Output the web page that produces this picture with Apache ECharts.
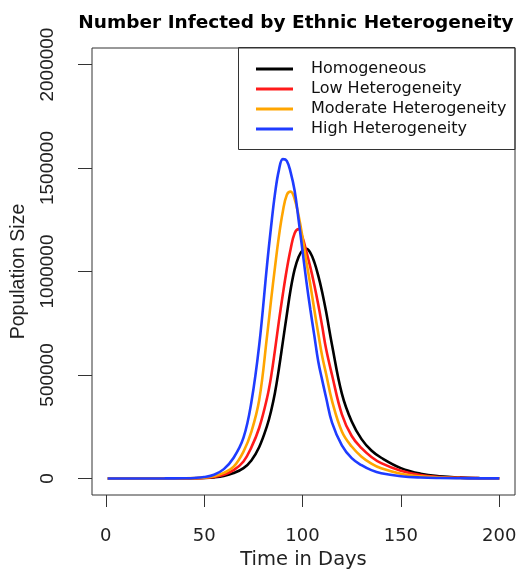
<!DOCTYPE html>
<html>
<head>
<meta charset="utf-8">
<script src="https://cdn.jsdelivr.net/npm/echarts@6/dist/echarts.min.js"></script>
<style>
  html, body { margin: 0; padding: 0; background: #ffffff; }
  #chart { width: 528px; height: 571px; }
</style>
</head>
<body>
<div id="chart"></div>
<script>
// Simulated daily infections (people currently infected) by ethnic heterogeneity level
const days = [1, 10, 20, 30, 40, 45, 50, 55, 60, 65, 70, 74, 78, 82, 84, 86, 88, 90, 92, 94,
  96, 98, 100, 102, 104, 106, 108, 110, 112, 115, 120, 125, 130, 135, 140, 150, 160, 170, 180, 190, 200];

const homogeneous = [0, 0, 3, 30, 250, 650, 1800, 5000, 12000, 26000, 50000, 87000, 152000, 255000, 325000, 414000, 530000, 660000, 790000, 915000,
  1010000, 1070000, 1102000, 1110000, 1090000, 1045000, 980000, 900000, 805000, 645000, 410000, 275000, 190000, 135000, 100000, 50000, 23000, 10000, 4000, 1600, 700];

const lowHeterogeneity = [0, 0, 5, 50, 400, 1000, 2800, 7500, 18000, 40000, 82000, 150000, 245000, 390000, 490000, 620000, 760000, 890000, 1010000, 1110000,
  1185000, 1205000, 1165000, 1095000, 1020000, 935000, 840000, 735000, 625000, 500000, 310000, 205000, 146000, 104000, 74000, 37000, 16000, 7000, 3000, 1200, 500];

const moderateHeterogeneity = [0, 0, 10, 80, 600, 1500, 4000, 11000, 27000, 57000, 130000, 225000, 380000, 690000, 860000, 1020000, 1170000, 1290000, 1370000, 1386000,
  1350000, 1270000, 1165000, 1045000, 935000, 815000, 700000, 590000, 505000, 375000, 227000, 154000, 105000, 72000, 49000, 23000, 10000, 4500, 2000, 900, 400];

const highHeterogeneity = [0, 0, 20, 150, 1000, 2500, 7000, 18000, 45000, 100000, 197000, 368000, 645000, 1035000, 1215000, 1375000, 1490000, 1543000, 1535000, 1478000,
  1390000, 1250000, 1100000, 950000, 815000, 690000, 565000, 475000, 390000, 270000, 160000, 98000, 64000, 40000, 25000, 11000, 4500, 1800, 700, 300, 100];

const xTicks = [0, 50, 100, 150, 200];
const yTicks = [0, 500000, 1000000, 1500000, 2000000];

const seriesNames = ['Homogeneous', 'Low Heterogeneity', 'Moderate Heterogeneity', 'High Heterogeneity'];
const seriesValues = [homogeneous, lowHeterogeneity, moderateHeterogeneity, highHeterogeneity];
const seriesColors = ['#000000', '#ff1a1a', '#ffa500', '#1f3cff'];

const chart = echarts.init(document.getElementById('chart'), null, { renderer: 'canvas' });

const inkColor = '#222222';

chart.setOption({
  animation: false,
  backgroundColor: '#ffffff',
  grid: {
    left: 92, right: 13, top: 48, bottom: 76,
    outerBoundsMode: 'none',
    containLabel: false,
    show: true,
    borderColor: '#333333',
    borderWidth: 1,
    backgroundColor: 'transparent'
  },
  xAxis: {
    type: 'value',
    min: -7,
    max: 208,
    name: 'Time in Days',
    nameLocation: 'middle',
    nameGap: 49,
    nameTextStyle: { fontFamily: 'DejaVu Sans', fontSize: 19.5, color: inkColor },
    axisLine: { show: false, onZero: false },
    axisTick: { show: true, inside: false, length: 12, customValues: xTicks, lineStyle: { color: '#333333', width: 1 } },
    axisLabel: {
      customValues: xTicks,
      margin: 32,
      fontFamily: 'DejaVu Sans',
      fontSize: 18,
      color: inkColor,
      formatter: v => String(v)
    },
    splitLine: { show: false }
  },
  yAxis: {
    type: 'value',
    min: -80000,
    max: 2080000,
    name: 'Population Size',
    nameLocation: 'middle',
    nameGap: 63,
    nameTextStyle: { fontFamily: 'Liberation Sans', fontSize: 19.5, color: inkColor },
    axisLine: { show: false, onZero: false },
    axisTick: { show: true, inside: false, length: 14, customValues: yTicks, lineStyle: { color: '#333333', width: 1 } },
    axisLabel: {
      customValues: yTicks,
      rotate: 90,
      margin: 35,
      fontFamily: 'Liberation Sans',
      fontSize: 19,
      color: inkColor,
      formatter: v => String(v)
    },
    splitLine: { show: false }
  },
  legend: {
    data: seriesNames,
    orient: 'vertical',
    left: 256,
    top: 59,
    padding: 0,
    itemGap: 0,
    itemWidth: 37,
    itemHeight: 3,
    icon: 'rect',
    selectedMode: false,
    textStyle: {
      fontFamily: 'DejaVu Sans',
      fontSize: 16,
      lineHeight: 20,
      color: '#111111',
      padding: [0, 0, 0, 13]
    }
  },
  graphic: [
    {
      type: 'text',
      x: 296,
      y: 23,
      style: {
        text: 'Number Infected by Ethnic Heterogeneity',
        align: 'center',
        verticalAlign: 'middle',
        fontFamily: 'DejaVu Sans',
        fontWeight: 'bold',
        fontSize: 18.5,
        fill: '#000000'
      }
    },
    {
      type: 'rect',
      shape: { x: 238.5, y: 47.5, width: 276.5, height: 102 },
      style: { fill: 'transparent', stroke: '#333333', lineWidth: 1 },
      z: 10
    }
  ],
  series: seriesNames.map((name, k) => ({
    name: name,
    type: 'line',
    showSymbol: false,
    smooth: 0.4,
    color: seriesColors[k],
    lineStyle: { color: seriesColors[k], width: 2.6 },
    data: days.map((d, i) => [d, seriesValues[k][i]])
  }))
});
</script>
</body>
</html>
